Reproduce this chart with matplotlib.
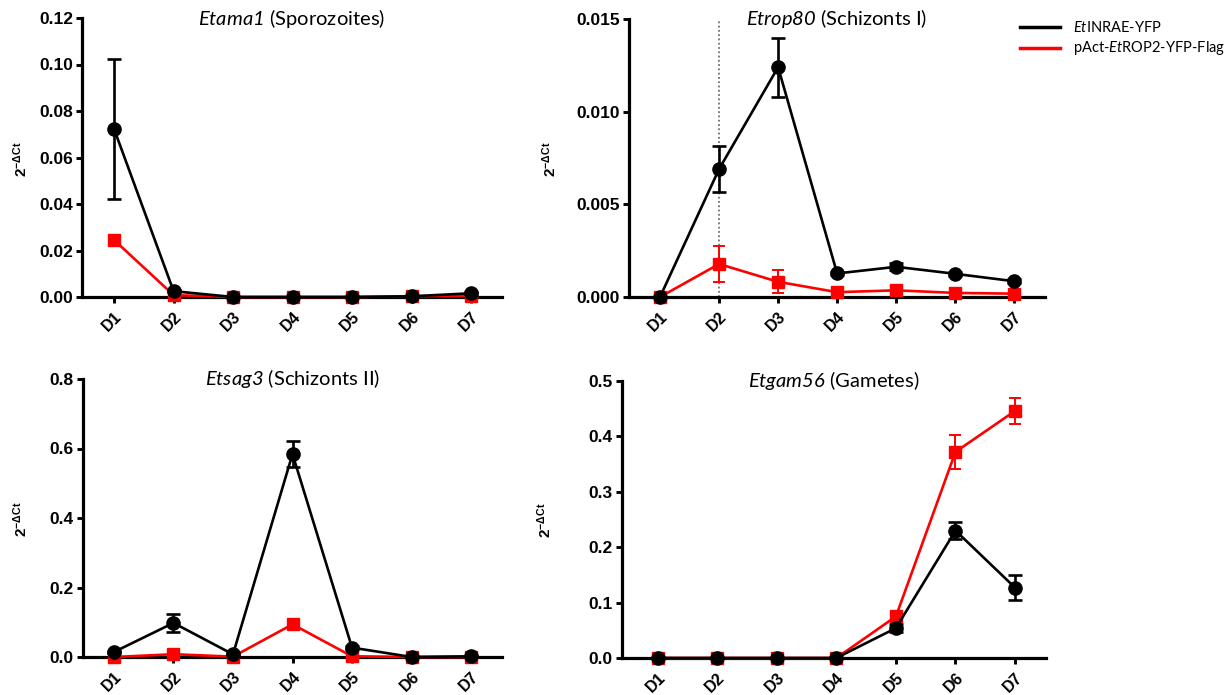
import matplotlib
matplotlib.use('Agg')
import matplotlib.pyplot as plt
from matplotlib.lines import Line2D

plt.rcParams['mathtext.fontset'] = 'custom'
plt.rcParams['mathtext.rm'] = 'Lato:italic'
plt.rcParams['mathtext.it'] = 'Lato:italic'
plt.rcParams['mathtext.bf'] = 'Liberation Sans:bold'

# ---------------- data ----------------
days = ['D1', 'D2', 'D3', 'D4', 'D5', 'D6', 'D7']
series_names = ['EtINRAE-YFP', 'pAct-EtROP2-YFP-Flag']

titles_italic = ['Etama1', 'Etrop80', 'Etsag3', 'Etgam56']
titles_plain = [' (Sporozoites)', ' (Schizonts I)', ' (Schizonts II)', ' (Gametes)']

# Etama1
ama_wt = [0.0722, 0.0025, 0.0, 0.0, 0.0, 0.0003, 0.0016]
ama_wt_err = [0.0300, 0.0005, 0.0, 0.0, 0.0, 0.0002, 0.0004]
ama_rop = [0.0245, 0.0008, 0.0, 0.0, 0.0, 0.0003, 0.0005]
ama_rop_err = [0.0020, 0.0003, 0.0, 0.0, 0.0, 0.0001, 0.0002]

# Etrop80
rop80_wt = [0.0, 0.0069, 0.0124, 0.00127, 0.00163, 0.00125, 0.00085]
rop80_wt_err = [0.0, 0.00125, 0.0016, 0.0001, 0.0002, 0.0001, 0.0001]
rop80_rop = [0.0, 0.00178, 0.00082, 0.00026, 0.00036, 0.00022, 0.00018]
rop80_rop_err = [0.0, 0.00097, 0.00062, 0.0001, 0.0001, 0.0001, 0.0001]

# Etsag3
sag_wt = [0.0144, 0.098, 0.0077, 0.584, 0.027, 0.0, 0.002]
sag_wt_err = [0.004, 0.026, 0.003, 0.037, 0.004, 0.0, 0.001]
sag_rop = [0.0, 0.008, 0.001, 0.094, 0.002, 0.0, 0.0]
sag_rop_err = [0.0, 0.003, 0.0, 0.006, 0.001, 0.0, 0.0]

# Etgam56
gam_wt = [0.0, 0.0, 0.0, 0.0, 0.054, 0.230, 0.127]
gam_wt_err = [0.0, 0.0, 0.0, 0.0, 0.007, 0.015, 0.023]
gam_rop = [0.0, 0.0, 0.0, 0.0, 0.075, 0.372, 0.446]
gam_rop_err = [0.0, 0.0, 0.0, 0.0, 0.004, 0.030, 0.023]

yticks_list = [
    [0.00, 0.02, 0.04, 0.06, 0.08, 0.10, 0.12],
    [0.000, 0.005, 0.010, 0.015],
    [0.0, 0.2, 0.4, 0.6, 0.8],
    [0.0, 0.1, 0.2, 0.3, 0.4, 0.5],
]
ytick_fmt = ['{:.2f}', '{:.3f}', '{:.1f}', '{:.1f}']

panels = [
    (ama_wt, ama_wt_err, ama_rop, ama_rop_err),
    (rop80_wt, rop80_wt_err, rop80_rop, rop80_rop_err),
    (sag_wt, sag_wt_err, sag_rop, sag_rop_err),
    (gam_wt, gam_wt_err, gam_rop, gam_rop_err),
]

# ---------------- layout ----------------
W, H = 1230, 695
fig = plt.figure(figsize=(W / 100, H / 100), dpi=100)


def pos(l, r, t, b):
    return [l / W, 1 - b / H, (r - l) / W, (b - t) / H]


boxes = [pos(82, 502, 18, 297), pos(629, 1045, 19, 297),
         pos(83, 502, 379, 657), pos(622, 1046, 381, 658)]
xlims = [(0.46, 7.52), (0.475, 7.52), (0.48, 7.52), (0.40, 7.52)]
ylabel_xy = [(21, 159), (550, 159), (21, 519), (545, 520)]

x = list(range(1, len(days) + 1))

for i, (box, data) in enumerate(zip(boxes, panels)):
    wt, wt_e, rp, rp_e = data
    ax = fig.add_axes(box)
    ax.set_facecolor('none')

    if i == 1:
        ax.axvline(2, color='0.35', lw=1.1, ls=(0, (1.2, 1.6)), zorder=1)

    c_r = ax.errorbar(x, rp, yerr=rp_e, color='#ff0000', marker='s', ms=8.5,
                      lw=1.9, elinewidth=1.4, capsize=4.5, capthick=1.4, zorder=3)
    c_b = ax.errorbar(x, wt, yerr=wt_e, color='black', marker='o', ms=9.5,
                      lw=1.9, elinewidth=1.9, capsize=5, capthick=1.9, zorder=4)
    for cont in (c_r, c_b):
        for ch in cont.get_children():
            ch.set_clip_on(False)

    yt = yticks_list[i]
    ax.set_ylim(0, yt[-1])
    ax.set_xlim(*xlims[i])
    ax.set_yticks(yt)
    ax.set_yticklabels([ytick_fmt[i].format(v) for v in yt],
                       family='Liberation Sans', fontweight='bold', fontsize=12.5)
    ax.set_xticks(x)
    ax.set_xticklabels(days, rotation=45, ha='right', va='top',
                       rotation_mode='anchor', family='Liberation Sans',
                       fontweight='bold', fontsize=11.5)

    for s in ('top', 'right'):
        ax.spines[s].set_visible(False)
    for s in ('left', 'bottom'):
        ax.spines[s].set_linewidth(2.3)
    ax.tick_params(axis='both', direction='out', length=4.5, width=2.1, pad=2)
    ax.tick_params(axis='x', pad=4)

    ax.text(0.5, 1.0, r'$\mathrm{' + titles_italic[i] + '}$' + titles_plain[i],
            transform=ax.transAxes, ha='center', va='center',
            family='Lato', fontsize=14.5)

    lx, ly = ylabel_xy[i]
    fig.text(lx / W, 1 - ly / H, r'$\mathbf{2^{-\Delta Ct}}$', rotation=90,
             ha='center', va='center', fontsize=11)

# ---------------- legend ----------------
leg_colors = ['black', '#ff0000']
leg_labels = [r'$\mathrm{Et}$INRAE-YFP', r'pAct-$\mathrm{Et}$ROP2-YFP-Flag']
leg_y = [27, 48]
for c, lab, yy in zip(leg_colors, leg_labels, leg_y):
    fig.add_artist(Line2D([1020 / W, 1060 / W], [1 - yy / H, 1 - yy / H],
                          color=c, lw=2.5, transform=fig.transFigure))
    fig.text(1073 / W, 1 - yy / H, lab, ha='left', va='center',
             family='Lato', fontsize=10.5)

fig.savefig('out.png', dpi=100)
